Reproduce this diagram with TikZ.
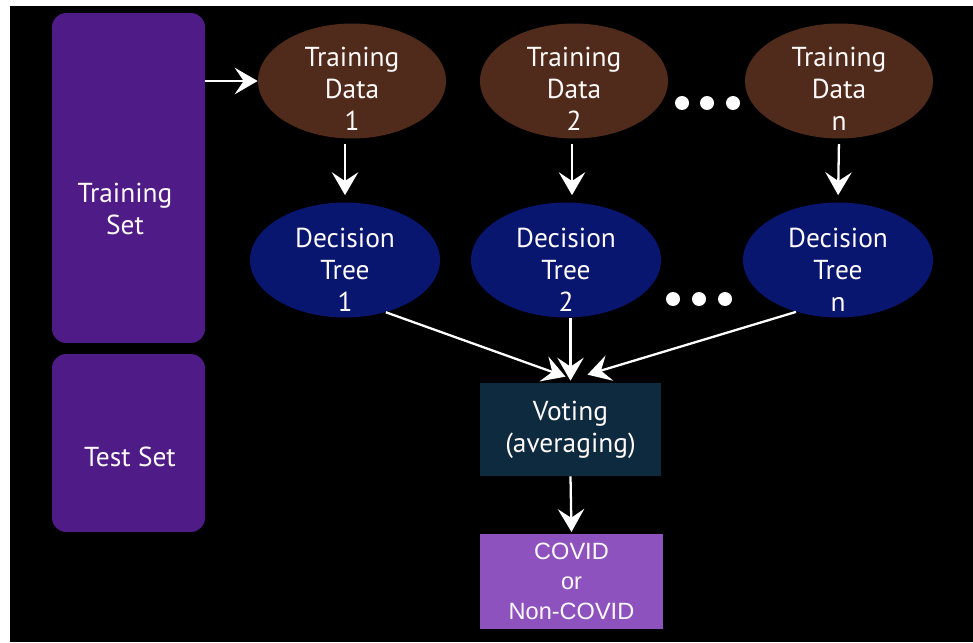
\documentclass[tikz,border=0pt]{standalone}
\usepackage{fontspec}
\setmainfont{PT Sans}
\newfontfamily\arialfont{Liberation Sans}
\usepackage{tikz}
\usetikzlibrary{
  arrows.meta,
  shapes.geometric
}
\definecolor{setpurple}{RGB}{79,27,134}
\definecolor{databrown}{RGB}{80,43,28}
\definecolor{treeblue}{RGB}{8,22,112}
\definecolor{votebox}{RGB}{14,42,62}
\definecolor{resultpurple}{RGB}{142,82,190}
\colorlet{textwhite}{white!92!pink}

\begin{document}
\begin{tikzpicture}[
  x=0.02cm, y=-0.02cm,
  every node/.style={text=textwhite, align=center, font=\fontsize{15.6}{18.2}\selectfont},
  setbox/.style={fill=setpurple, rounded corners=8pt, minimum width=3.06cm, inner sep=0pt},
  datanode/.style={ellipse, fill=databrown, minimum width=3.76cm, minimum height=2.3cm, inner sep=0pt,
    label={[yshift=-0.16cm]center:#1}},
  treenode/.style={ellipse, fill=treeblue, minimum width=3.8cm, minimum height=2.3cm, inner sep=0pt,
    label={[yshift=-0.2cm]center:#1}},
  flow/.style={draw=white, line width=1.3pt, -{Stealth[length=13pt, width=15pt, inset=5pt]}},
  dot/.style={circle, fill=white, minimum size=0.28cm, inner sep=0pt}
]
\useasboundingbox (0,0) rectangle (973,642);
\fill[white] (0,0) rectangle (973,642);
\fill[black] (10,6) rectangle (973,642);

% sets
\node[setbox, minimum height=6.6cm] (trainset) at (128.5,178) {};
\node (trainlbl) at (125,209) {Training\\Set};
\node[setbox, minimum height=3.56cm] (testset) at (128.5,443) {};
\node (testlbl) at (130,457) {Test Set};

% bootstrap samples and trees
\node[datanode={Training\\Data\\1}] (data1) at (352,81) {};
\node[datanode={Training\\Data\\2}] (data2) at (574,81) {};
\node[datanode={Training\\Data\\n}] (datan) at (839,81) {};
\node[treenode={Decision\\Tree\\1}] (tree1) at (345,260) {};
\node[treenode={Decision\\Tree\\2}] (tree2) at (566,260) {};
\node[treenode={Decision\\Tree\\n}] (treen) at (838,260) {};
\foreach \x in {682,707,733} \node[dot] (ddot\x) at (\x,103) {};
\foreach \x in {673,699,725} \node[dot] (tdot\x) at (\x,299) {};

\node[fill=votebox, minimum width=3.62cm, minimum height=1.86cm] (vote) at (570.5,429.5) {Voting\\(averaging)};
\node[fill=resultpurple, minimum width=3.66cm, minimum height=1.9cm,
  font=\arialfont\fontsize{13.4}{17}\selectfont] (result) at (571.5,581.5) {COVID\\or\\Non-COVID};

\draw[flow] (trainset.east |- data1.west) -- (data1.west);
\draw[flow, shorten <=3pt, shorten >=4pt] (data1.south -| tree1.north) -- (tree1.north);
\draw[flow, shorten <=3pt, shorten >=4pt] (data2.south -| 572,0) -- (tree2.north -| 572,0);
\draw[flow, shorten <=3pt, shorten >=4pt] (datan.south) -- (treen.north);
\draw[flow] (tree1.-52) -- ([xshift=-0.1cm, yshift=0.12cm]vote.north);
\draw[flow] (tree2.south -| vote.north) -- ([yshift=0.04cm]vote.north);
\draw[flow] (treen.-129) -- ([xshift=0.34cm, yshift=0.16cm]vote.north);
\draw[flow, shorten >=1pt] (vote.south) -- (result.north);
\end{tikzpicture}
\end{document}
